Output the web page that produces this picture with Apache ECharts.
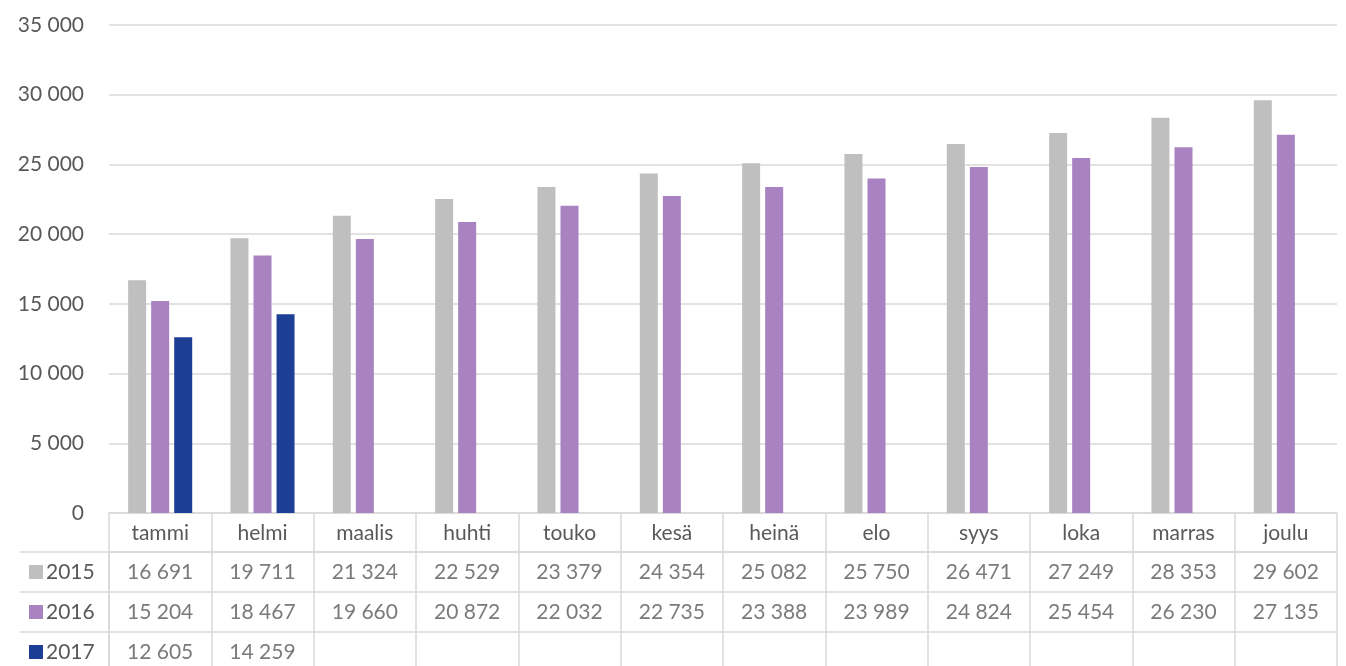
<!DOCTYPE html>
<html><head><meta charset="utf-8">
<script src="https://cdn.jsdelivr.net/npm/echarts@6/dist/echarts.min.js"></script>
<style>html,body{margin:0;padding:0;background:#fff}#c{width:1346px;height:666px}</style>
</head><body><div id="c"></div>
<script>
const months = ['tammi','helmi','maalis','huhti','touko','kesä','heinä','elo','syys','loka','marras','joulu'];
const years = ['2015','2016','2017'];
const v2015 = [16691,19711,21324,22529,23379,24354,25082,25750,26471,27249,28353,29602];
const v2016 = [15204,18467,19660,20872,22032,22735,23388,23989,24824,25454,26230,27135];
const v2017 = [12605,14259];
const yTicks = {min:0, max:35000, interval:5000};
const colors = ['#bfbfbf','#a882c1','#1c3e94'];
const txt = '#595959', line = '#d9d9d9', font = 'Lato';
const fmt = v => String(v).replace(/\B(?=(\d{3})+(?!\d))/g, ' ');
const seriesVals = [v2015, v2016, v2017];

const chart = echarts.init(document.getElementById('c'), null, {renderer:'canvas'});
const cells = [];
seriesVals.forEach((arr, r) => arr.forEach((v, i) => cells.push([i, r, v])));
const rich = {t:{color:txt, fontSize:21, fontFamily:font, padding:[0,0,0,3]}};
years.forEach((y, i) => { rich['s'+i] = {width:14, height:14, backgroundColor:colors[i]}; });

chart.setOption({
  animation:false,
  textStyle:{fontFamily:font},
  grid:[
    {left:109, right:9, top:25, bottom:153, outerBoundsMode:'none'},
    {left:109, right:9, top:552, height:120, outerBoundsMode:'none'}
  ],
  xAxis:[
    {type:'category', gridIndex:0, data:months,
     axisLine:{lineStyle:{color:line, width:1.5}},
     axisTick:{show:true, length:39, lineStyle:{color:line, width:1.5}},
     axisLabel:{color:txt, fontSize:21, fontFamily:font, margin:10}},
    {type:'category', gridIndex:1, data:months, position:'top',
     axisLine:{show:true, lineStyle:{color:line, width:1.5}},
     axisTick:{show:false}, axisLabel:{show:false},
     splitLine:{show:true, lineStyle:{color:line, width:1.5}}}
  ],
  yAxis:[
    {type:'value', gridIndex:0, min:yTicks.min, max:yTicks.max, interval:yTicks.interval,
     axisLine:{show:false}, axisTick:{show:false},
     axisLabel:{color:txt, fontSize:21, fontFamily:font, margin:25, formatter:fmt},
     splitLine:{lineStyle:{color:line, width:1.5}}},
    {type:'category', gridIndex:1, data:years, inverse:true,
     axisLine:{show:true, lineStyle:{color:line, width:1.5}},
     axisTick:{show:true, length:89, lineStyle:{color:line, width:1.5}},
     axisLabel:{align:'left', margin:80, formatter:(v, i) => '{s'+i+'|}{t|'+v+'}', rich:rich},
     splitLine:{show:true, lineStyle:{color:line, width:1.5}}}
  ],
  series:[
    ...seriesVals.map((arr, i) => ({
      type:'bar', name:years[i], xAxisIndex:0, yAxisIndex:0, data:arr,
      barWidth:18, barGap:'28%', itemStyle:{color:colors[i]}, silent:true
    })),
    {type:'scatter', xAxisIndex:1, yAxisIndex:1, data:cells, symbolSize:1,
     itemStyle:{color:'rgba(0,0,0,0)'}, silent:true,
     label:{show:true, position:'inside', color:txt, fontSize:21, fontFamily:font,
            formatter:p => fmt(p.value[2])}}
  ]
});
</script></body></html>
